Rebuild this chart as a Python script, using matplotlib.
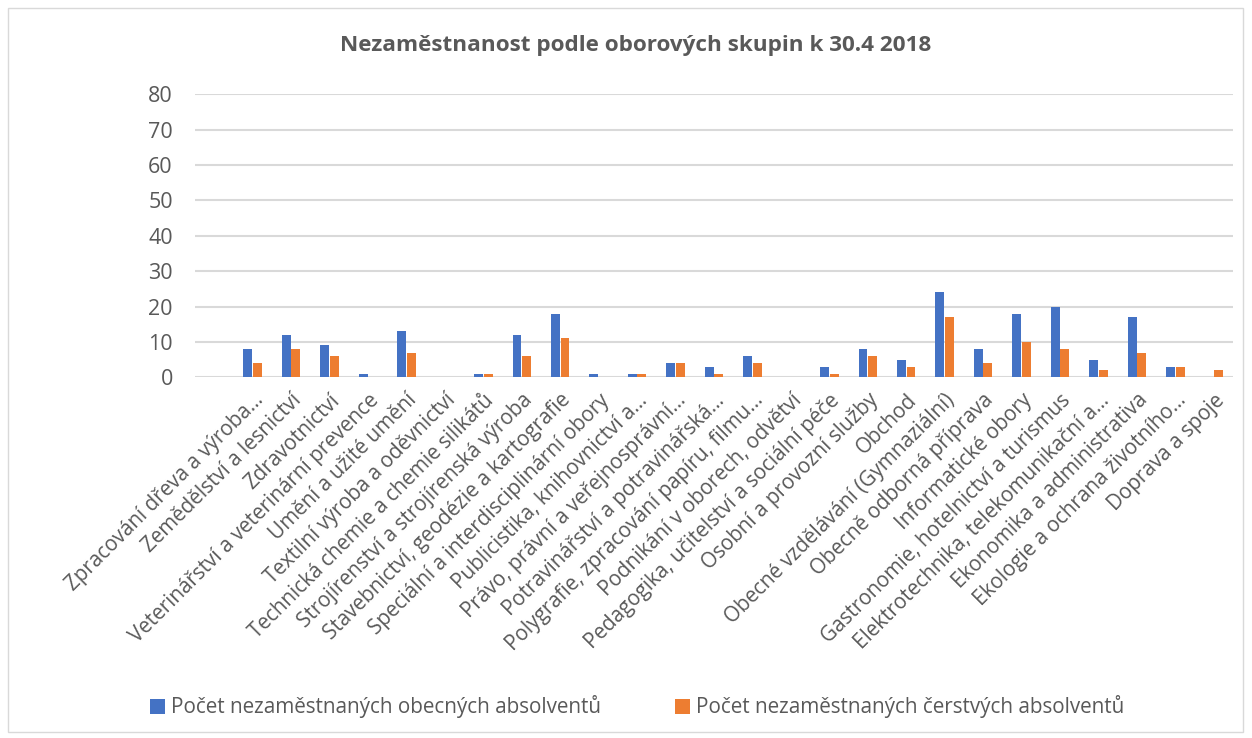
import matplotlib
matplotlib.use("Agg")
import matplotlib.pyplot as plt
import numpy as np
from matplotlib.patches import Rectangle

categories = [
    "",
    "Zpracování dřeva a výroba…",
    "Zemědělství a lesnictví",
    "Zdravotnictví",
    "Veterinářství a veterinární prevence",
    "Umění a užité umění",
    "Textilní výroba a oděvnictví",
    "Technická chemie a chemie silikátů",
    "Strojírenství a strojírenská výroba",
    "Stavebnictví, geodézie a kartografie",
    "Speciální a interdisciplinární obory",
    "Publicistika, knihovnictví a…",
    "Právo, právní a veřejnosprávní…",
    "Potravinářství a potravinářská…",
    "Polygrafie, zpracování papíru, filmu…",
    "Podnikání v oborech, odvětví",
    "Pedagogika, učitelství a sociální péče",
    "Osobní a provozní služby",
    "Obchod",
    "Obecné vzdělávání (Gymnaziální)",
    "Obecně odborná příprava",
    "Informatické obory",
    "Gastronomie, hotelnictví a turismus",
    "Elektrotechnika, telekomunikační a…",
    "Ekonomika a administrativa",
    "Ekologie a ochrana životního…",
    "Doprava a spoje",
]
obecni = [0, 8, 12, 9, 1, 13, 0, 1, 12, 18, 1, 1, 4, 3, 6, 0, 3, 8, 5, 24, 8, 18, 20, 5, 17, 3, 0]
cerstvi = [0, 4, 8, 6, 0, 7, 0, 1, 6, 11, 0, 1, 4, 1, 4, 0, 1, 6, 3, 17, 4, 10, 8, 2, 7, 3, 2]
series_names = ["Počet nezaměstnaných obecných absolventů",
                "Počet nezaměstnaných čerstvých absolventů"]
title = "Nezaměstnanost podle oborových skupin k 30.4 2018"
yticks = [0, 10, 20, 30, 40, 50, 60, 70, 80]

plt.rcParams['font.family'] = ['Open Sans', 'DejaVu Sans']
txt = "#595959"

fig = plt.figure(figsize=(12.52, 7.38), dpi=100)
ax = fig.add_axes([195/1252, 1-377.3/738, (1233-195)/1252, (377.3-94.3)/738])

x = np.arange(len(categories))
w = 0.23
gap = 0.02
ax.bar(x - w/2 - gap/2, obecni, width=w, color="#4472C4", label=series_names[0], zorder=3)
ax.bar(x + w/2 + gap/2, cerstvi, width=w, color="#ED7D31", label=series_names[1], zorder=3)

ax.set_xlim(-0.5, len(categories) - 0.5)
ax.set_ylim(0, 80)
ax.set_yticks(yticks)
ax.yaxis.grid(True, color="#D9D9D9", linewidth=1.5, zorder=0)
ax.set_axisbelow(True)
for s in ax.spines.values():
    s.set_visible(False)
ax.tick_params(axis='y', length=0, labelsize=15.5, labelcolor=txt, pad=16)
ax.tick_params(axis='x', length=0, labelsize=14.9, labelcolor=txt, pad=9)
ax.set_xticks(x)
ax.set_xticklabels(categories, rotation=45, ha='right', va='top', rotation_mode='anchor')

fig.text(0.5076, 1-45/738, title, ha='center', va='center', fontsize=16.2,
         fontweight='bold', color=txt)

leg = fig.legend(loc='center', bbox_to_anchor=(0.509, 1-707/738), ncol=2,
                 frameon=False, fontsize=14.9, handlelength=0.7, handleheight=0.7,
                 handletextpad=0.3, columnspacing=3.6, labelcolor=txt)

fig.patches.append(Rectangle((8/1252, 1-732/738), (1243-8)/1252, (732-8)/738,
                             transform=fig.transFigure, fill=False,
                             edgecolor="#D9D9D9", linewidth=1.0))

fig.savefig("out.png", dpi=100, facecolor="white")
